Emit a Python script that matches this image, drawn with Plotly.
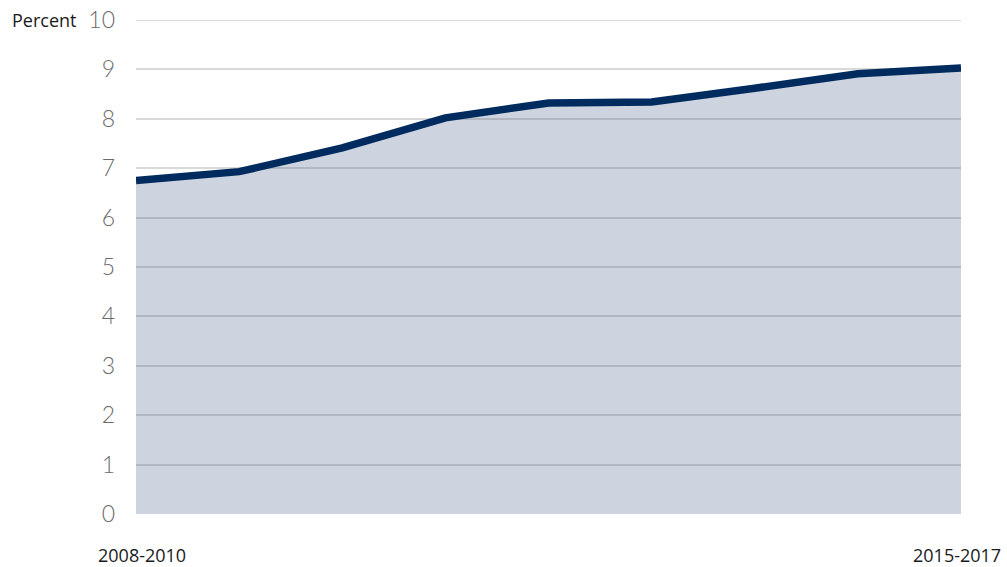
import plotly.graph_objects as go

# Three-year rolling periods, first and last labelled on the axis
period_index = [0, 1, 2, 3, 4, 5, 6, 7, 8]
percent = [6.75, 6.93, 7.41, 8.02, 8.32, 8.34, 8.62, 8.91, 9.03]
first_label = "2008-2010"
last_label = "2015-2017"
y_ticks = [0, 1, 2, 3, 4, 5, 6, 7, 8, 9, 10]

label_font = dict(family="Open Sans", size=18, color="#1a1a1a")

fig = go.Figure()
fig.add_trace(go.Scatter(
    x=period_index,
    y=percent,
    mode="lines",
    line=dict(color="#002b5e", width=7.5),
    fill="tozeroy",
    fillcolor="rgba(47,76,122,0.24)",
    hoverinfo="skip",
))

# top gridline at the edge of the range
fig.add_shape(type="line", xref="paper", yref="y", x0=0, x1=1, y0=10, y1=10,
              line=dict(color="#d9d9d9", width=2), layer="below")

fig.update_layout(
    width=1007,
    height=567,
    margin=dict(l=136, r=46, t=20, b=53, autoexpand=False),
    paper_bgcolor="white",
    plot_bgcolor="white",
    showlegend=False,
    xaxis=dict(
        range=[period_index[0], period_index[-1]],
        showgrid=False,
        zeroline=False,
        showticklabels=False,
        showline=False,
        automargin=False,
    ),
    yaxis=dict(
        range=[0, 10],
        tickvals=y_ticks,
        showgrid=True,
        gridcolor="#d9d9d9",
        gridwidth=2,
        zeroline=False,
        showline=False,
        ticks="",
        automargin=False,
        ticklabelstandoff=20,
        tickfont=dict(family="Lato", size=23, color="#6b6b6b", weight=300),
    ),
    annotations=[
        dict(text="Percent", xref="paper", yref="y", x=0, y=10,
             xanchor="right", yanchor="middle", xshift=-58, showarrow=False,
             font=label_font),
        dict(text=first_label, xref="x", yref="paper", x=period_index[0], y=0,
             xanchor="center", yanchor="middle", xshift=6, yshift=-41,
             showarrow=False, font=label_font),
        dict(text=last_label, xref="x", yref="paper", x=period_index[-1], y=0,
             xanchor="center", yanchor="middle", xshift=-4, yshift=-41,
             showarrow=False, font=label_font),
    ],
)

fig.write_html("out.html")
